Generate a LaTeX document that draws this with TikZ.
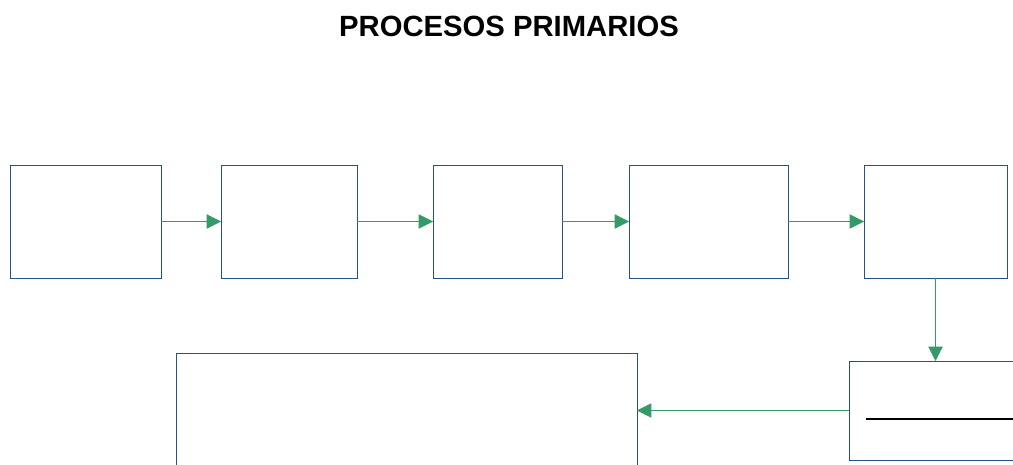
\documentclass[tikz,border=0pt]{standalone}
\usepackage{fontspec}
\newfontfamily\titlefont{Liberation Sans}
\usepackage{xcolor}
\usetikzlibrary{arrows.meta,positioning}
\definecolor{boxblue}{HTML}{24528A}
\definecolor{flowgreen}{HTML}{349A68}
\tikzstyle{block} = [rectangle,draw=boxblue,line width=0.7pt,fill=white,inner sep=0pt,outer sep=0pt,minimum height=2.825cm]
\tikzstyle{flow} = [draw=flowgreen,line width=0.6pt,-{Triangle[length=0.36cm,width=0.36cm]}]

\begin{document}
\begin{tikzpicture}[auto,node distance = 1.5cm]
    \useasboundingbox (0,0) rectangle (25.325,11.6);
    \clip (0,0) rectangle (25.325,11.6);
    % title
    \node [font=\titlefont\bfseries\fontsize{20.8}{24}\selectfont] (title) at (12.725,10.95) {PROCESOS PRIMARIOS};
    % We start by placing the blocks of the upper row
    \node [block, minimum width=3.775cm, anchor=north west] (act1) at (0.25,7.475) {};
    \node [block, right=1.5cm of act1, minimum width=3.4cm] (act2) {};
    \node [block, right=1.9cm of act2, minimum width=3.225cm] (act3) {};
    \node [block, right=1.675cm of act3, minimum width=3.975cm] (act4) {};
    \node [block, right=1.9cm of act4, minimum width=3.575cm] (act5) {};
    % lower row, both cut by the page edge
    \node [block, anchor=north west, minimum width=4.525cm, minimum height=2.475cm] (res) at (21.225,2.575) {};
    \node [block, anchor=north west, minimum width=11.525cm, minimum height=3.175cm] (prod) at (4.4,2.775) {};
    \draw [line width=1.6pt] ([xshift=0.425cm,yshift=-0.2125cm]res.west) -- ([yshift=-0.2125cm]res.east);

    % Once the nodes are placed, connecting them is easy.
    \draw [flow] (act1) -- (act2);
    \draw [flow] (act2) -- (act3);
    \draw [flow] (act3) -- (act4);
    \draw [flow] (act4) -- (act5);
    \draw [flow] (act5.south) -- (act5.south |- res.north);
    \draw [flow] (res.west) -- (res.west -| prod.east);
\end{tikzpicture}
\end{document}
